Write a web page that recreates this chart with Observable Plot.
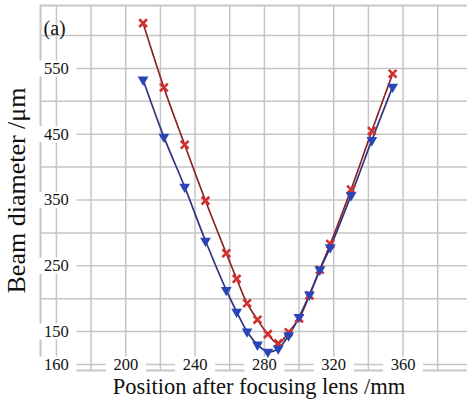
<!DOCTYPE html>
<html>
<head>
<meta charset="utf-8">
<script src="https://cdn.jsdelivr.net/npm/d3@7"></script>
<script src="https://cdn.jsdelivr.net/npm/@observablehq/plot@0.6"></script>
<style>
  html, body { margin: 0; padding: 0; background: #fff; }
  #chart svg { display: block; }
  #chart svg, #chart svg text { font-family: "Liberation Serif", "DejaVu Serif", serif !important; }
</style>
</head>
<body>
<div id="chart"></div>
<script>
// Beam diameter measured along the propagation axis after the focusing lens
const positions = [210, 222, 234, 246, 258, 264, 270, 276, 282, 288, 294, 300, 306, 312, 318, 330, 342, 354];
const diameterX = [619, 521, 434, 349, 269, 230, 193, 168, 146, 132, 149, 170, 205, 244, 283, 366, 455, 542];
const diameterY = [533, 446, 370, 288, 213, 180, 150, 130, 119, 124, 144, 172, 206, 244, 278, 357, 441, 522];

// Axis layout (the axes cross at position 160, diameter 100)
const xDomain = [150.8, 397.2];
const yDomain = [90.7, 645.8];
const xGrid = [160, 180, 200, 220, 240, 260, 280, 300, 320, 340, 360, 380];
const yGrid = [100, 150, 200, 250, 300, 350, 400, 450, 500, 550, 600];
const xTicks = [160, 200, 240, 280, 320, 360];
const yTicks = [150, 250, 350, 450, 550];
const xCross = 160;
const yCross = 100;

const rows = (ys) => positions.map((p, i) => ({position: p, diameter: ys[i]}));
const seriesX = rows(diameterX);
const seriesY = rows(diameterY);

const gridColor = "#c6c6c6";
const serif = "Liberation Serif";

// white plate drawn behind each tick label
const labelPlate = {
  draw(context) {
    context.rect(-20, -8, 40, 16);
  }
};

const chart = Plot.plot({
  width: 467,
  height: 404,
  marginLeft: 40,
  marginTop: 5,
  marginRight: 0,
  marginBottom: 34,
  style: {background: "#fff"},
  x: {domain: xDomain, axis: null},
  y: {domain: yDomain, axis: null},
  marks: [
    Plot.gridX(xGrid, {stroke: gridColor, strokeOpacity: 1, strokeWidth: 1.5}),
    Plot.gridY(yGrid, {stroke: gridColor, strokeOpacity: 1, strokeWidth: 1.5}),
    Plot.ruleX([xDomain[0]], {stroke: gridColor, strokeWidth: 2}),
    Plot.ruleY(yDomain, {stroke: gridColor, strokeWidth: 2}),
    // tick labels sit on the crossing gridlines with a white backing
    Plot.dot(yTicks, {x: () => xCross, y: d => d, symbol: labelPlate, fill: "#fff", stroke: "none"}),
    Plot.dot(xTicks, {x: d => d, y: () => yCross, symbol: labelPlate, fill: "#fff", stroke: "none"}),
    Plot.text(yTicks, {x: () => xCross, y: d => d, text: d => String(d),
      fontFamily: serif, fontSize: 16.5, fill: "#111"}),
    Plot.text(xTicks, {x: d => d, y: () => yCross, text: d => String(d),
      fontFamily: serif, fontSize: 16.5, fill: "#111"}),
    Plot.text(["(a)"], {frameAnchor: "top-left", dx: 3, dy: 15, textAnchor: "start",
      fontFamily: serif, fontSize: 20, fill: "#111"}),
    Plot.text(["Beam diameter /μm"], {frameAnchor: "left", textAnchor: "middle", dx: -24, dy: 2.5,
      rotate: -90, fontFamily: serif, fontSize: 26, fill: "#111"}),
    Plot.text(["Position after focusing lens /mm"], {frameAnchor: "bottom", textAnchor: "middle",
      dx: 5, dy: 23, fontFamily: serif, fontSize: 22.5, fill: "#111"}),
    Plot.line(seriesX, {x: "position", y: "diameter", curve: "catmull-rom",
      stroke: "#8c1f22", strokeWidth: 1.7, strokeDasharray: "2.5,1"}),
    Plot.line(seriesY, {x: "position", y: "diameter", curve: "catmull-rom",
      stroke: "#2f3580", strokeWidth: 1.7}),
    Plot.dot(seriesX, {x: "position", y: "diameter", symbol: "times", r: 3.6,
      stroke: "#d2302f", strokeWidth: 2.6}),
    Plot.dot(seriesY, {x: "position", y: "diameter", symbol: "triangle", rotate: 180, r: 4,
      fill: "#2945b8", stroke: "none"})
  ]
});

document.getElementById("chart").appendChild(chart);
</script>
</body>
</html>
